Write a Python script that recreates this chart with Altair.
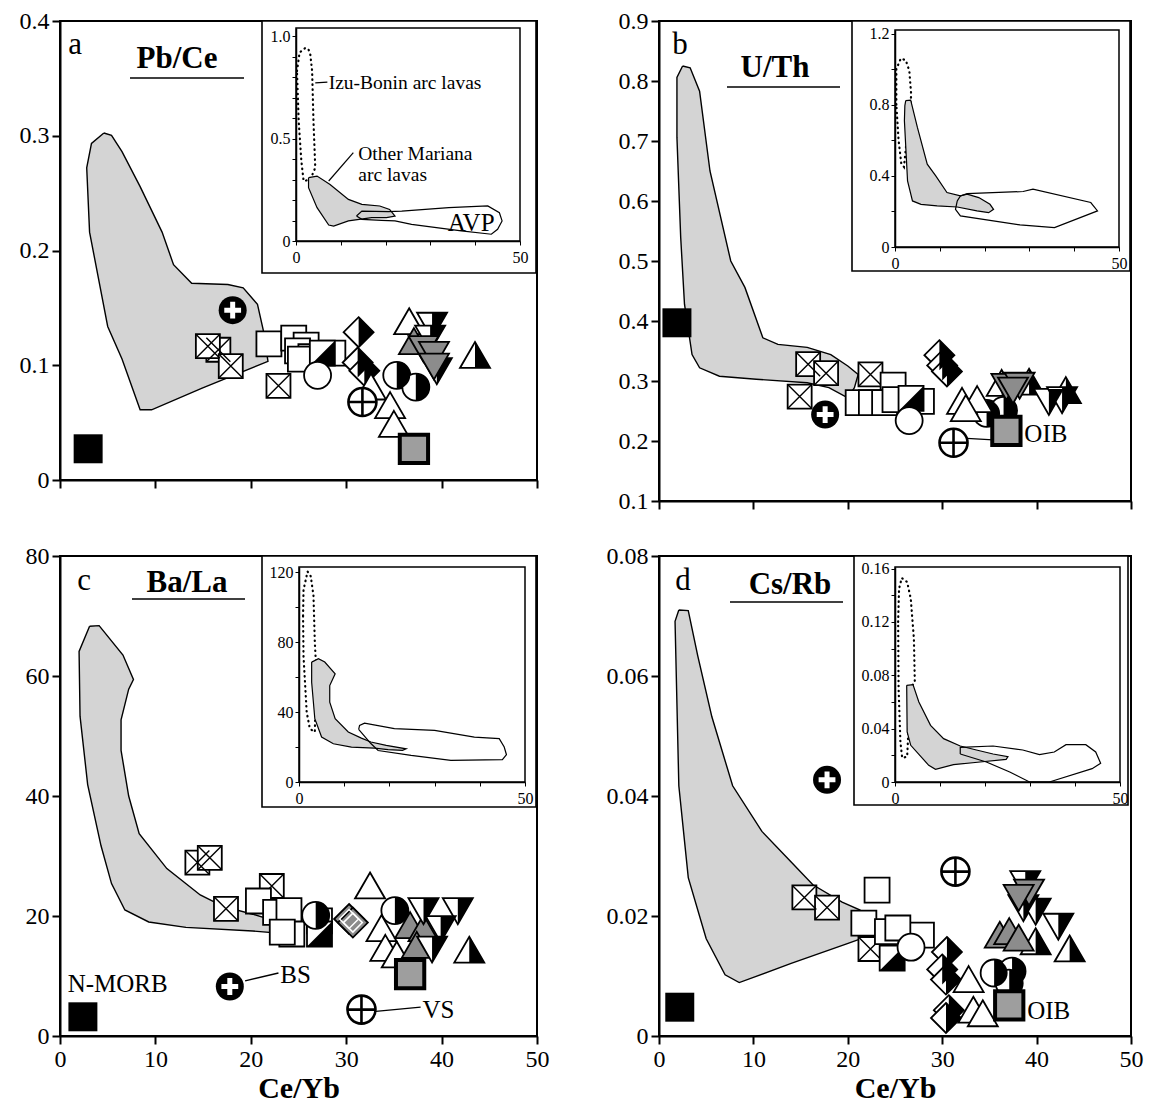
import altair as alt
import pandas as pd

FONT = "Liberation Serif"
ARC_FILL = "#d4d4d4"
STIPPLE = "#8c8c8c"

# ---------------------------------------------------------------- data
# main panels: (symbol, Ce/Yb, ratio)
PTS_A = [
    ("xsq", 16.6, 0.1135), ("xsq", 15.5, 0.1166), ("xsq", 17.9, 0.0993), ("xsq", 22.9, 0.0821),
    ("sq", 21.9, 0.1186), ("sq", 24.5, 0.1237), ("sq", 25.8, 0.1176), ("sq", 24.9, 0.1125),
    ("sq", 26.3, 0.1074), ("sq", 25.2, 0.1054), ("sq", 28.6, 0.1105),
    ("dsq", 27.5, 0.1105), ("circ", 27.0, 0.0912),
    ("hcirc", 35.3, 0.0912), ("hcirc", 37.3, 0.0810),
    ("dia", 31.3, 0.1288), ("dia", 31.2, 0.1024), ("dia", 31.9, 0.0953),
    ("tri", 32.6, 0.0810), ("tri", 34.6, 0.0648), ("tri", 35.0, 0.0485), ("tri", 36.6, 0.1379),
    ("gtri", 37.1, 0.1206),
    ("dtri", 39.0, 0.1349), ("dtri", 38.8, 0.1237), ("dtri", 39.5, 0.0953),
    ("gdtri", 38.1, 0.1146), ("gdtri", 39.2, 0.1095), ("gdtri", 39.2, 0.0993),
    ("htri", 43.5, 0.1085),
    ("morb", 2.95, 0.0272), ("oib", 37.1, 0.0272), ("bs", 18.1, 0.148), ("vs", 31.7, 0.068),
]
PTS_B = [
    ("xsq", 15.8, 0.328), ("xsq", 17.7, 0.313), ("xsq", 14.9, 0.274), ("xsq", 22.4, 0.311),
    ("sq", 24.8, 0.293), ("sq", 21.1, 0.264), ("sq", 22.5, 0.264), ("sq", 23.9, 0.264),
    ("sq", 25.0, 0.269), ("sq", 27.8, 0.266),
    ("dsq", 26.7, 0.271), ("circ", 26.5, 0.234),
    ("dia", 29.7, 0.343), ("dia", 30.0, 0.326), ("dia", 30.5, 0.316),
    ("tri", 32.1, 0.266), ("tri", 33.7, 0.269), ("tri", 32.5, 0.254),
    ("hcirc", 34.7, 0.246), ("hcirc", 36.5, 0.251),
    ("htri", 36.3, 0.296), ("htri", 39.2, 0.298), ("htri", 43.1, 0.284),
    ("gdtri", 36.8, 0.291), ("gdtri", 38.2, 0.293), ("gdtri", 37.5, 0.285),
    ("dtri", 41.3, 0.266), ("dtri", 42.7, 0.269),
    ("morb", 1.9, 0.397), ("oib", 36.8, 0.217), ("bs", 17.6, 0.244), ("vs", 31.2, 0.197),
]
PTS_C = [
    ("xsq", 14.4, 28.9), ("xsq", 15.7, 29.7), ("xsq", 17.4, 21.2), ("xsq", 22.2, 25.0),
    ("sq", 20.8, 22.5), ("sq", 22.6, 20.6), ("sq", 24.0, 20.9), ("sq", 24.3, 17.0),
    ("sq", 23.3, 17.3), ("sq", 27.2, 19.2),
    ("hcirc", 26.8, 20.1), ("dsq", 27.2, 17.0),
    ("gdia", 30.3, 19.5), ("gdia", 30.7, 18.9),
    ("tri", 32.5, 25.0), ("tri", 33.7, 17.9), ("tri", 34.1, 14.6), ("tri", 35.3, 13.5),
    ("hcirc", 35.1, 20.9),
    ("gtri", 36.7, 18.4), ("gtri", 38.1, 17.9), ("gtri", 37.4, 15.1),
    ("dtri", 38.1, 20.9), ("dtri", 41.7, 20.9), ("dtri", 39.9, 17.9), ("dtri", 39.0, 14.5),
    ("htri", 42.9, 14.3),
    ("morb", 2.4, 3.2), ("oib", 36.7, 10.3), ("bs", 17.8, 8.25), ("vs", 31.6, 4.4),
]
PTS_D = [
    ("xsq", 15.4, 0.0231), ("xsq", 17.8, 0.0214), ("xsq", 22.4, 0.0145),
    ("sq", 23.1, 0.0243), ("sq", 21.7, 0.0188), ("sq", 24.2, 0.0174), ("sq", 26.7, 0.0165),
    ("sq", 27.8, 0.0168), ("sq", 25.3, 0.0180),
    ("dsq", 24.7, 0.0130), ("circ", 26.7, 0.0148),
    ("dia", 30.5, 0.0140), ("dia", 30.0, 0.0111), ("dia", 30.4, 0.0094),
    ("dia", 30.7, 0.0043), ("dia", 30.4, 0.0030),
    ("tri", 32.8, 0.0094), ("tri", 33.3, 0.0043), ("tri", 34.3, 0.0037),
    ("hcirc", 35.5, 0.0105), ("hcirc", 37.4, 0.0108), ("hcirc", 37.1, 0.0088),
    ("gtri", 36.1, 0.0168), ("gtri", 37.1, 0.0174), ("gtri", 38.1, 0.0163),
    ("htri", 39.9, 0.0157), ("htri", 43.5, 0.0145),
    ("dtri", 38.8, 0.0254), ("gdtri", 39.2, 0.0240), ("gdtri", 38.1, 0.0231),
    ("dtri", 38.6, 0.0214), ("dtri", 39.9, 0.0208), ("dtri", 42.3, 0.0183),
    ("morb", 2.2, 0.0048), ("oib", 37.1, 0.0051), ("bs", 17.8, 0.0427), ("vs", 31.4, 0.0274),
]

# "Other Mariana arc lavas" field, main panels
ARC_A = [(4.6, 0.3024), (5.4, 0.3004), (6.5, 0.2862), (8.4, 0.2557), (10.7, 0.216), (11.9, 0.1877),
         (13.8, 0.1714), (17.6, 0.1704), (19.2, 0.1674), (20.7, 0.1531), (21.3, 0.1308),
         (21.8, 0.1034), (14.9, 0.080), (9.6, 0.0612), (8.4, 0.0612), (6.5, 0.1054), (5.0, 0.1338),
         (3.1, 0.216), (2.8, 0.272), (3.3, 0.2933)]
ARC_B = [(2.5, 0.825), (3.3, 0.822), (4.3, 0.783), (5.4, 0.65), (7.6, 0.5), (9.1, 0.456),
         (11.0, 0.372), (12.6, 0.361), (15.7, 0.356), (18.2, 0.344), (20.0, 0.325), (21.1, 0.311),
         (20.7, 0.289), (20.0, 0.272), (18.0, 0.289), (15.7, 0.297), (10.3, 0.303), (6.4, 0.308),
         (4.3, 0.322), (3.5, 0.344), (2.7, 0.428), (2.3, 0.539), (1.9, 0.706), (1.9, 0.806)]
ARC_C = [(3.1, 68.3), (4.1, 68.4), (6.6, 63.5), (7.7, 59.4), (7.2, 57.8), (6.4, 52.7), (6.4, 47.6),
         (7.2, 40.0), (8.3, 33.7), (11.2, 27.9), (14.7, 23.5), (17.1, 21.6), (20.2, 20.3),
         (22.9, 19.0), (23.3, 17.1), (20.2, 17.5), (13.2, 18.1), (9.3, 19.0), (6.8, 21.0),
         (5.4, 25.4), (4.3, 31.7), (2.9, 41.9), (2.1, 53.3), (2.0, 64.1)]
ARC_D = [(2.1, 0.071), (3.1, 0.0709), (4.1, 0.0634), (5.6, 0.0532), (7.8, 0.0417), (10.9, 0.0341),
         (14.0, 0.029), (16.3, 0.0252), (19.4, 0.0223), (21.3, 0.021), (22.1, 0.0166),
         (19.8, 0.0153), (14.0, 0.0121), (8.5, 0.0089), (7.0, 0.0102), (5.0, 0.0162),
         (3.1, 0.0264), (2.1, 0.0417), (1.7, 0.0691)]

# insets: Izu-Bonin (dotted), other Mariana (shaded), AVP (open)
IZU_A = [(0.22, 0.83), (0.8, 0.92), (2.1, 0.943), (2.8, 0.935), (3.2, 0.91), (3.6, 0.83),
         (3.9, 0.585), (4.3, 0.358), (3.2, 0.30), (1.7, 0.293), (1.2, 0.39), (0.6, 0.585)]
INARC_A = [(2.8, 0.309), (4.7, 0.317), (7.6, 0.276), (11.7, 0.203), (14.7, 0.179), (18.7, 0.171),
           (20.9, 0.154), (22.1, 0.122), (20.2, 0.114), (16.9, 0.114), (11.7, 0.098), (8.4, 0.073),
           (7.3, 0.078), (4.7, 0.163), (2.8, 0.26)]
AVP_A = [(13.5, 0.122), (14.7, 0.146), (20.6, 0.143), (23.6, 0.146), (34.1, 0.163), (42.8, 0.171),
         (45.4, 0.138), (46.0, 0.098), (45.0, 0.057), (43.6, 0.033), (36.9, 0.049), (25.8, 0.081),
         (22.1, 0.098), (19.1, 0.101), (14.7, 0.106)]
IZU_B = [(0.3, 0.8), (0.3, 1.0), (1.3, 1.06), (2.4, 1.05), (3.2, 0.99), (3.6, 0.86), (3.4, 0.75),
         (2.6, 0.6), (2.0, 0.45), (1.4, 0.47), (0.8, 0.6)]
INARC_B = [(2.4, 0.823), (3.5, 0.826), (5.0, 0.672), (7.2, 0.466), (9.1, 0.4), (11.6, 0.306),
           (14.6, 0.287), (16.1, 0.297), (18.7, 0.278), (21.2, 0.24), (22.0, 0.212), (20.9, 0.193),
           (18.3, 0.203), (13.9, 0.225), (9.4, 0.231), (5.8, 0.24), (3.9, 0.259), (2.8, 0.372),
           (2.1, 0.71), (2.2, 0.795)]
AVP_B = [(13.9, 0.259), (14.6, 0.287), (16.1, 0.3), (28.6, 0.312), (30.8, 0.325), (43.7, 0.25),
         (45.2, 0.203), (35.6, 0.109), (27.9, 0.124), (14.6, 0.175), (13.5, 0.212)]
IZU_C = [(0.9, 95), (1.0, 110), (1.9, 120.4), (2.6, 117.7), (3.2, 106.7), (3.5, 80), (3.7, 70),
         (3.8, 55), (3.6, 40), (3.5, 28.6), (2.4, 30.5), (1.7, 40), (1.0, 72)]
INARC_C = [(2.8, 68.6), (4.3, 70.5), (5.7, 68.6), (8.0, 61.9), (6.8, 55.2), (6.8, 45.7), (8.0, 36.2),
           (10.9, 28.6), (13.8, 25.1), (15.9, 22.9), (19.3, 21.0), (23.7, 19.0), (22.9, 18.1),
           (19.7, 18.5), (16.7, 19.4), (11.6, 20.0), (7.6, 21.9), (5.0, 25.7), (3.5, 36.2),
           (2.8, 57.1)]
AVP_C = [(13.2, 30.1), (13.4, 32.4), (14.5, 33.7), (21.1, 30.5), (30.0, 29.5), (38.8, 25.7),
         (44.3, 24.8), (45.4, 20.0), (45.9, 15.6), (45.0, 12.8), (33.6, 12.4), (24.8, 15.2),
         (17.5, 18.0), (15.9, 22.0)]
IZU_D = [(0.7, 0.12), (0.9, 0.145), (1.5, 0.153), (2.7, 0.150), (3.5, 0.1375), (4.2, 0.1075),
         (4.4, 0.075), (3.3, 0.07), (3.0, 0.04), (2.7, 0.019), (1.6, 0.018), (1.2, 0.03), (0.8, 0.07)]
INARC_D = [(2.6, 0.0725), (4.0, 0.073), (5.3, 0.06), (7.9, 0.0425), (10.8, 0.0325), (14.5, 0.027),
           (18.1, 0.024), (21.8, 0.021), (25.1, 0.019), (24.7, 0.017), (18.9, 0.015), (13.0, 0.013),
           (9.0, 0.0095), (7.5, 0.0125), (3.5, 0.0275), (2.7, 0.0375)]
AVP_D = [(14.5, 0.021), (14.5, 0.026), (21.8, 0.027), (28.4, 0.024), (32.1, 0.0205), (35.4, 0.0225),
         (38.0, 0.028), (42.4, 0.028), (44.6, 0.0225), (45.7, 0.014), (43.8, 0.01), (34.3, 0.0),
         (29.9, 0.0), (25.5, 0.0075), (20.3, 0.015)]

# annotations in data units
NOTES_C = [("N-MORB", 0.8, 8.6), ("BS", 23.1, 10.2), ("VS", 38.0, 4.4)]
LEADERS_C = [(19.4, 9.2, 22.9, 10.5), (33.1, 4.1, 37.8, 4.8)]
NOTES_B = [("OIB", 38.7, 0.212)]
LEADERS_B = [(32.6, 0.2044, 35.4, 0.2019)]
NOTES_D = [("OIB", 39.0, 0.0041)]
INSET_NOTES_A = [("Izu-Bonin arc lavas", 7.3, 0.772), ("Other  Mariana", 13.9, 0.423),
                 ("arc lavas", 13.9, 0.322)]
INSET_LEADERS_A = [(4.3, 0.772, 7.0, 0.776), (12.8, 0.431, 7.3, 0.293)]
INSET_AVP_A = [("AVP", 39.1, 0.089)]

# ---------------------------------------------------------------- symbols
SQ = "M-1,-1L1,-1L1,1L-1,1Z"
XS = "M-1,-1L1,1M1,-1L-1,1"
LR = "M1,-1L1,1L-1,1Z"
DIA = "M0,-1L1,0L0,1L-1,0Z"
DIA_R = "M0,-1L1,0L0,1Z"
TRI = "M0,-0.9L1,0.83L-1,0.83Z"
TRI_R = "M0,-0.9L1,0.83L0,0.83Z"
DTRI = "M-1,-0.83L1,-0.83L0,0.9Z"
DTRI_R = "M0,-0.83L1,-0.83L0,0.9Z"
HC_R = "M0,-1A1,1,0,0,1,0,1Z"
PLUS_S = "M-0.6,0L0.6,0M0,-0.6L0,0.6"
PLUS_L = "M-1,0L1,0M0,-1L0,1"

OPEN = dict(filled=True, fill="white", stroke="black", strokeWidth=1.8)
SOLID = dict(filled=True, fill="black", strokeWidth=0)
PARTS = [
    (["xsq"], dict(shape=SQ, size=576, **OPEN)),
    (["xsq"], dict(shape=XS, size=576, filled=False, stroke="black", strokeWidth=1.4)),
    (["sq", "dsq"], dict(shape=SQ, size=625, **OPEN)),
    (["dsq"], dict(shape=LR, size=625, **SOLID)),
    (["circ", "hcirc"], dict(shape="circle", size=729, **OPEN)),
    (["hcirc"], dict(shape=HC_R, size=729, **SOLID)),
    (["dia"], dict(shape=DIA, size=900, **OPEN)),
    (["dia"], dict(shape=DIA_R, size=900, **SOLID)),
    (["gdia"], dict(shape=DIA, size=900, filled=True, fill=STIPPLE, stroke="black", strokeWidth=1.8)),
    (["gdia"], dict(shape=DIA, size=360, filled=False, stroke="white", strokeWidth=1.5)),
    (["tri", "htri"], dict(shape=TRI, size=900, **OPEN)),
    (["htri"], dict(shape=TRI_R, size=900, **SOLID)),
    (["gtri"], dict(shape=TRI, size=900, filled=True, fill=STIPPLE, stroke="black", strokeWidth=1.8)),
    (["dtri"], dict(shape=DTRI, size=900, **OPEN)),
    (["dtri"], dict(shape=DTRI_R, size=900, **SOLID)),
    (["gdtri"], dict(shape=DTRI, size=900, filled=True, fill=STIPPLE, stroke="black", strokeWidth=1.8)),
    (["morb"], dict(shape=SQ, size=840, **SOLID)),
    (["oib"], dict(shape=SQ, size=800, filled=True, fill="#9e9e9e", stroke="black", strokeWidth=4)),
    (["bs"], dict(shape="circle", size=784, **SOLID)),
    (["bs"], dict(shape=PLUS_S, size=784, filled=False, stroke="white", strokeWidth=5)),
    (["vs"], dict(shape="circle", size=784, filled=True, fill="white", stroke="black", strokeWidth=2.6)),
    (["vs"], dict(shape=PLUS_L, size=784, filled=False, stroke="black", strokeWidth=2.6)),
]


def closed(pts):
    rows = [{"x": x, "y": y, "o": i} for i, (x, y) in enumerate(pts)]
    rows.append({"x": pts[0][0], "y": pts[0][1], "o": len(pts)})
    return pd.DataFrame(rows)


ONE = pd.DataFrame({"k": [0]})


def pixel_text(txt, x, y, size, weight="normal"):
    return alt.Chart(ONE).mark_text(text=txt, font=FONT, fontSize=size, fontWeight=weight,
                                    color="black", align="center", baseline="middle").encode(
        x=alt.value(x), y=alt.value(y))


def build(cfg):
    w, h = cfg["w"], cfg["h"]
    xs = alt.Scale(domain=[0, 50], nice=False, zero=False)
    ys = alt.Scale(domain=cfg["ydom"], nice=False, zero=False)
    xax = alt.Axis(values=[0, 10, 20, 30, 40, 50], labels=cfg["xlabels"], title=cfg["xtitle"],
                   labelFlush=False, titleFontSize=30, titleFontWeight="bold", titlePadding=2,
                   format="d")
    yax = alt.Axis(values=cfg["yticks"], format="~r", title=None)
    X = alt.X("x:Q", scale=xs, axis=xax)
    Y = alt.Y("y:Q", scale=ys, axis=yax)

    main = [alt.Chart(closed(cfg["arc"])).mark_line(fill=ARC_FILL, stroke="black", strokeWidth=1.4)
            .encode(x=X, y=Y, order="o:Q")]
    pdf = pd.DataFrame(cfg["pts"], columns=["sym", "x", "y"])
    for syms, props in PARTS:
        p = dict(opacity=1)
        p.update(props)
        main.append(alt.Chart(pdf).transform_filter(alt.FieldOneOfPredicate(field="sym", oneOf=syms))
                    .mark_point(**p).encode(x=X, y=Y))
    if cfg.get("leaders"):
        ldf = pd.DataFrame(cfg["leaders"], columns=["x", "y", "x2", "y2"])
        main.append(alt.Chart(ldf).mark_rule(color="black", strokeWidth=1.3)
                    .encode(x=X, y=Y, x2="x2:Q", y2="y2:Q"))
    if cfg.get("notes"):
        ndf = pd.DataFrame(cfg["notes"], columns=["t", "x", "y"])
        main.append(alt.Chart(ndf).mark_text(font=FONT, fontSize=25, color="black", align="left",
                                             baseline="middle").encode(x=X, y=Y, text="t:N"))
    # panel letter, ratio name and its underline (layout only)
    lx, ly, tx, ty, ux1, ux2, uy = cfg["head"]
    main.append(pixel_text(cfg["letter"], lx, ly, 31))
    main.append(pixel_text(cfg["name"], tx, ty, 31, "bold"))
    main.append(alt.Chart(ONE).mark_rule(color="black", strokeWidth=1.6).encode(
        x=alt.value(ux1), x2=alt.value(ux2), y=alt.value(uy)))

    # ---- inset
    ins = cfg["inset"]
    bx1, bx2, by1, by2 = ins["box"]
    xr, yr = ins["xr"], ins["yr"]
    xis = alt.Scale(domain=[0, 50], range=xr, nice=False, zero=False)
    yis = alt.Scale(domain=[0, ins["ymax"]], range=yr, nice=False, zero=False)
    xiax = alt.Axis(orient="bottom", offset=yr[0] - h, values=[0, 10, 20, 30, 40, 50],
                    labelExpr="datum.value == 0 || datum.value == 50 ? format(datum.value, 'd') : ''",
                    title=None, tickSize=4, tickWidth=1, domainWidth=1.5, labelFontSize=16,
                    labelPadding=4, labelFlush=False, zindex=2, labelOverlap=False)
    yiax = alt.Axis(orient="left", offset=-xr[0], values=ins["yticks"], labelExpr=ins["ylab"],
                    title=None, tickSize=4, tickWidth=1, domainWidth=1.5, labelFontSize=16,
                    labelPadding=2, zindex=2, labelOverlap=False)
    XI = alt.X("x:Q", scale=xis, axis=xiax)
    YI = alt.Y("y:Q", scale=yis, axis=yiax)
    inset = [alt.Chart(ONE).mark_rect(fill="white", stroke="black", strokeWidth=1.6).encode(
        x=alt.value(bx1), x2=alt.value(bx2), y=alt.value(by1), y2=alt.value(by2))]
    inset.append(alt.Chart(closed(ins["izu"])).mark_line(color="black", strokeWidth=2.2,
                 strokeDash=[0.5, 4.5], strokeCap="round").encode(x=XI, y=YI, order="o:Q"))
    inset.append(alt.Chart(closed(ins["arc"])).mark_line(fill=ARC_FILL, stroke="black",
                 strokeWidth=1.2).encode(x=XI, y=YI, order="o:Q"))
    inset.append(alt.Chart(closed(ins["avp"])).mark_line(stroke="black", strokeWidth=1.2)
                 .encode(x=XI, y=YI, order="o:Q"))
    frame = pd.DataFrame({"x": [0], "x2": [50], "y": [0], "y2": [ins["ymax"]]})
    inset.append(alt.Chart(frame).mark_rect(fillOpacity=0, stroke="black", strokeWidth=1.5)
                 .encode(x=XI, x2="x2:Q", y=YI, y2="y2:Q"))
    if ins.get("leaders"):
        ldf = pd.DataFrame(ins["leaders"], columns=["x", "y", "x2", "y2"])
        inset.append(alt.Chart(ldf).mark_rule(color="black", strokeWidth=1.2)
                     .encode(x=XI, y=YI, x2="x2:Q", y2="y2:Q"))
    if ins.get("notes"):
        ndf = pd.DataFrame(ins["notes"], columns=["t", "x", "y"])
        inset.append(alt.Chart(ndf).mark_text(font=FONT, fontSize=19.5, color="black", align="left",
                                              baseline="middle").encode(x=XI, y=YI, text="t:N"))
    if ins.get("big"):
        bdf = pd.DataFrame(ins["big"], columns=["t", "x", "y"])
        inset.append(alt.Chart(bdf).mark_text(font=FONT, fontSize=25, color="black", align="center",
                                              baseline="middle").encode(x=XI, y=YI, text="t:N"))

    return alt.layer(alt.layer(*main), alt.layer(*inset)).resolve_scale(
        x="independent", y="independent").properties(width=w, height=h)


LAB1 = ("abs(datum.value*2 - round(datum.value*2)) < 1e-6 ? "
        "(datum.value == 0 ? '0' : format(datum.value, '.1f')) : ''")
LAB2 = ("abs(datum.value/0.4 - round(datum.value/0.4)) < 1e-6 ? "
        "(datum.value == 0 ? '0' : format(datum.value, '.1f')) : ''")
LAB3 = "datum.value % 40 == 0 ? format(datum.value, 'd') : ''"
LAB4 = ("abs(datum.value/0.04 - round(datum.value/0.04)) < 1e-6 ? "
        "(datum.value == 0 ? '0' : format(datum.value, '.2f')) : ''")

cfg_a = dict(w=477, h=459, ydom=[0, 0.4], yticks=[0, 0.1, 0.2, 0.3, 0.4], xlabels=False, xtitle=None,
             arc=ARC_A, pts=PTS_A, letter="a", name="Pb/Ce", head=(15, 24, 117, 38, 70, 184, 57),
             inset=dict(box=(202, 476, 0, 252), xr=[236, 460], yr=[220, 7], ymax=1.04,
                        yticks=[0, 0.1, 0.2, 0.3, 0.4, 0.5, 0.6, 0.7, 0.8, 0.9, 1.0], ylab=LAB1,
                        izu=IZU_A, arc=INARC_A, avp=AVP_A, leaders=INSET_LEADERS_A,
                        notes=INSET_NOTES_A, big=INSET_AVP_A))
cfg_b = dict(w=472, h=480, ydom=[0.1, 0.9], yticks=[0.1, 0.2, 0.3, 0.4, 0.5, 0.6, 0.7, 0.8, 0.9],
             xlabels=False, xtitle=None, arc=ARC_B, pts=PTS_B, letter="b", name="U/Th",
             head=(21, 24, 116, 47, 68, 181, 66), notes=NOTES_B, leaders=LEADERS_B,
             inset=dict(box=(193, 471, 0, 250), xr=[236, 460], yr=[226, 9], ymax=1.22,
                        yticks=[0, 0.2, 0.4, 0.6, 0.8, 1.0, 1.2], ylab=LAB2,
                        izu=IZU_B, arc=INARC_B, avp=AVP_B))
cfg_c = dict(w=477, h=480, ydom=[0, 80], yticks=[0, 20, 40, 60, 80], xlabels=True, xtitle="Ce/Yb",
             arc=ARC_C, pts=PTS_C, letter="c", name="Ba/La", head=(24, 25, 127, 27, 72, 185, 43),
             notes=NOTES_C, leaders=LEADERS_C,
             inset=dict(box=(202, 476, 0, 251), xr=[239, 465], yr=[226, 11], ymax=123,
                        yticks=[0, 20, 40, 60, 80, 100, 120], ylab=LAB3,
                        izu=IZU_C, arc=INARC_C, avp=AVP_C))
cfg_d = dict(w=472, h=480, ydom=[0, 0.08], yticks=[0, 0.02, 0.04, 0.06, 0.08], xlabels=True,
             xtitle="Ce/Yb", arc=ARC_D, pts=PTS_D, letter="d", name="Cs/Rb",
             head=(24, 25, 131, 29, 71, 184, 46), notes=NOTES_D,
             inset=dict(box=(195, 469, 0, 249), xr=[236, 461], yr=[226, 11], ymax=0.1612,
                        yticks=[0, 0.02, 0.04, 0.06, 0.08, 0.10, 0.12, 0.14, 0.16], ylab=LAB4,
                        izu=IZU_D, arc=INARC_D, avp=AVP_D))

chart = alt.concat(build(cfg_a), build(cfg_b), build(cfg_c), build(cfg_d), columns=2,
                   spacing={"row": 55, "column": 122}, bounds="flush").properties(
    padding={"left": 10, "top": 0, "right": 0, "bottom": 0}, background="white"
).configure_view(stroke="black", strokeWidth=2).configure_axis(
    grid=False, domainColor="black", domainWidth=2, tickColor="black", tickWidth=2, tickSize=8,
    labelColor="black", labelFont=FONT, labelFontSize=24, labelPadding=3,
    titleFont=FONT, titleColor="black")

chart.save("out.html", embed_options={"renderer": "svg", "actions": False})
